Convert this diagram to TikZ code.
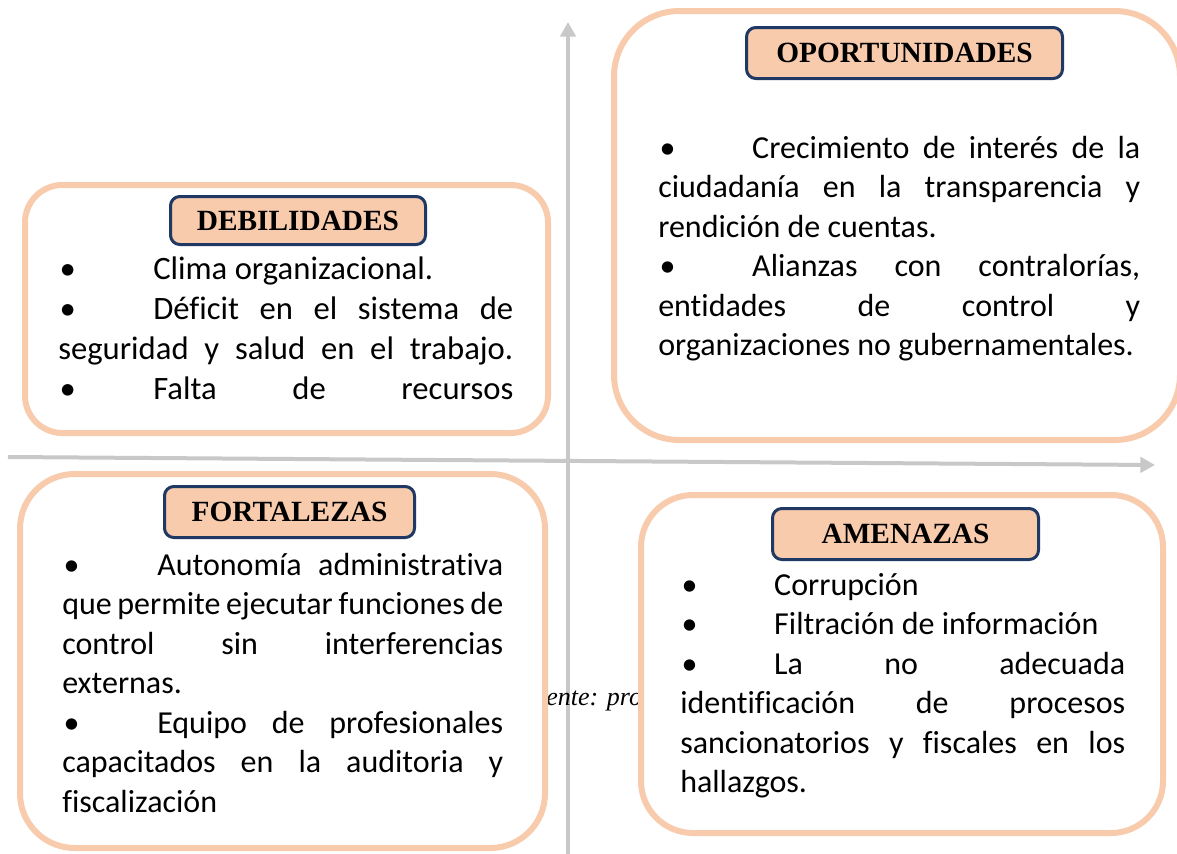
\documentclass[tikz,border=0pt]{standalone}
\usepackage{fontspec}
\setmainfont{Carlito}[Ligatures=CommonOff]
\newfontfamily\titlefont{Liberation Serif}
\usetikzlibrary{arrows.meta}
\definecolor{peach}{HTML}{F8CBAD}
\definecolor{navy}{HTML}{1F3864}
\definecolor{axisgray}{HTML}{C8C8C8}
\newcommand{\bul}[1]{\makebox[#1][l]{\hspace{1pt}•}}
\hyphenpenalty=10000
\exhyphenpenalty=10000
\begin{document}
\begin{tikzpicture}[x=0.75pt,y=-0.75pt,
  outerbox/.style={draw=peach, line width=4.5pt, fill=white},
  titlebox/.style={draw=navy, line width=2.25pt, fill=peach, rounded corners=7pt, inner sep=0pt,
    font=\titlefont\bfseries\fontsize{22}{26}\selectfont},
  body/.style={anchor=north west, inner sep=0pt, align=justify,
    font=\fontsize{24}{29.6}\selectfont},
  axisline/.style={draw=axisgray, line width=3pt, -{Triangle[length=11pt,width=11.5pt]}}
]
\useasboundingbox (0,0) rectangle (1177,853);

% axes
\coordinate (vbot) at (568,856);
\coordinate (vtop) at (568,22);
\coordinate (hleft) at (8,457);
\coordinate (hright) at (1155,465);
\draw[axisline] (vbot) -- (vtop);
\draw[axisline] (hleft) -- (hright);

% partially hidden source text
\node[anchor=base west, inner sep=0pt, font=\titlefont\itshape\fontsize{19.5}{23}\selectfont] (fuente) at (546,705) {ente: pro};

% outer boxes
\draw[outerbox, rounded corners=28pt] (25,185) rectangle (548,433);
\draw[outerbox, rounded corners=49pt] (614,11) rectangle (1180,440);
\draw[outerbox, rounded corners=41pt] (20,474) rectangle (545,848);
\draw[outerbox, rounded corners=39pt] (641,495) rectangle (1163,833);

% titles
\node[titlebox, minimum width=237pt, minimum height=38.25pt] (topp) at (904.5,53) {\raisebox{-2pt}{OPORTUNIDADES}};
\node[titlebox, minimum width=191.25pt, minimum height=36pt] (tdeb) at (298,220.5) {\raisebox{-2pt}{DEBILIDADES}};
\node[titlebox, minimum width=187.5pt, minimum height=38.25pt] (tfor) at (289.5,512) {\raisebox{-2pt}{FORTALEZAS}};
\node[titlebox, minimum width=199.5pt, minimum height=38.25pt] (tame) at (905.5,534) {\raisebox{-2pt}{AMENAZAS}};

% texts
\node[body, text width=341.25pt, font=\fontsize{24.5}{30}\selectfont] (bdeb) at (58,251) {\strut\bul{71.25pt}Clima organizacional.\par
\bul{71.25pt}Déficit en el sistema de\linebreak
seguridad y salud en el trabajo.{\parfillskip=0pt\par}
\bul{71.25pt}Falta de recursos\linebreak\mbox{}};

\node[body, text width=361.5pt] (bopp) at (658,130.4) {\strut\bul{70.5pt}Crecimiento de interés de la\linebreak
ciudadanía en la transparencia y\linebreak
rendición de cuentas.\par
\bul{70.5pt}Alianzas con contralorías,\linebreak
entidades de control y\linebreak
organizaciones no gubernamentales.};

\node[body, text width=330.75pt] (bfor) at (62,547.4) {\strut\bul{71.25pt}Autonomía administrativa\linebreak
que permite ejecutar funciones de\linebreak
control sin interferencias\linebreak
externas.\par
\bul{71.25pt}Equipo de profesionales\linebreak
capacitados en la auditoria y\linebreak
fiscalización};

\node[body, text width=333.75pt] (bame) at (680,567.4) {\strut\bul{70.5pt}Corrupción\par
\bul{70.5pt}Filtración de información\par
\bul{70.5pt}La no adecuada\linebreak
identificación de procesos\linebreak
sancionatorios y fiscales en los\linebreak
hallazgos.};
\end{tikzpicture}
\end{document}
